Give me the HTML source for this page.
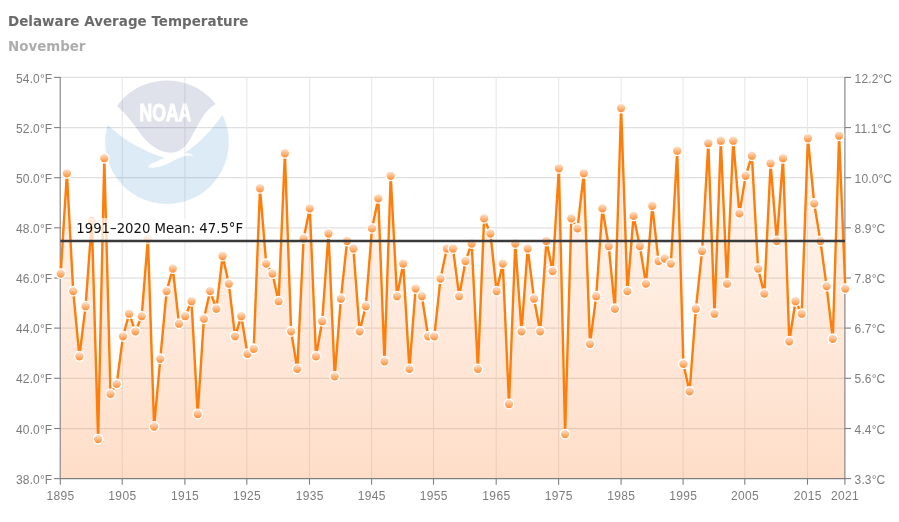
<!DOCTYPE html>
<html lang="en"><head><meta charset="utf-8"><title>Delaware Average Temperature</title>
<style>
html,body{margin:0;padding:0;background:#fff;}
body{width:899px;height:522px;overflow:hidden;position:relative;font-family:"Liberation Sans",sans-serif;}
#title{position:absolute;left:8px;top:12.2px;font-family:"DejaVu Sans","Liberation Sans",sans-serif;font-size:13.5px;font-weight:bold;color:#6a6a6a;white-space:nowrap;line-height:18px;}
#subtitle{position:absolute;left:8px;top:38px;font-family:"DejaVu Sans","Liberation Sans",sans-serif;font-size:13.4px;font-weight:bold;color:#adadad;white-space:nowrap;line-height:18px;}
svg{position:absolute;left:0;top:0;}
.ax{font-family:"Liberation Sans",sans-serif;font-size:12px;fill:#7c7c7c;}
.xl{letter-spacing:0.35px;}
.yl{letter-spacing:0.12px;}
.ml{font-family:"DejaVu Sans","Liberation Sans",sans-serif;font-size:13.25px;fill:#111;}
</style></head><body>
<div id="title">Delaware Average Temperature</div>
<div id="subtitle">November</div>
<svg width="899" height="522" viewBox="0 0 899 522">
<defs>
<linearGradient id="af" gradientUnits="userSpaceOnUse" x1="0" y1="77" x2="0" y2="479">
<stop offset="0" stop-color="#fc7319" stop-opacity="0.015"/><stop offset="1" stop-color="#fc7319" stop-opacity="0.24"/></linearGradient>
<linearGradient id="mk" x1="0" y1="0" x2="0" y2="1">
<stop offset="0" stop-color="#ffe6d2"/><stop offset="0.45" stop-color="#ffbe8c"/><stop offset="1" stop-color="#ff8520"/></linearGradient>
<clipPath id="lc"><circle cx="167" cy="142.2" r="61.8"/></clipPath>
</defs>
<g stroke="#e0e0e0" stroke-width="1.25"><line x1="60" x2="845" y1="428.5" y2="428.5"/><line x1="60" x2="845" y1="378.3" y2="378.3"/><line x1="60" x2="845" y1="328.1" y2="328.1"/><line x1="60" x2="845" y1="278.0" y2="278.0"/><line x1="60" x2="845" y1="227.8" y2="227.8"/><line x1="60" x2="845" y1="177.7" y2="177.7"/><line x1="60" x2="845" y1="127.6" y2="127.6"/><line x1="60" x2="845" y1="77.4" y2="77.4"/><line x1="122.2" x2="122.2" y1="77.4" y2="478.6" stroke="#e8e8e8" stroke-width="1.1"/><line x1="184.9" x2="184.9" y1="77.4" y2="478.6" stroke="#e8e8e8" stroke-width="1.1"/><line x1="246.8" x2="246.8" y1="77.4" y2="478.6" stroke="#e8e8e8" stroke-width="1.1"/><line x1="309.5" x2="309.5" y1="77.4" y2="478.6" stroke="#e8e8e8" stroke-width="1.1"/><line x1="371.6" x2="371.6" y1="77.4" y2="478.6" stroke="#e8e8e8" stroke-width="1.1"/><line x1="433.5" x2="433.5" y1="77.4" y2="478.6" stroke="#e8e8e8" stroke-width="1.1"/><line x1="496.2" x2="496.2" y1="77.4" y2="478.6" stroke="#e8e8e8" stroke-width="1.1"/><line x1="558.6" x2="558.6" y1="77.4" y2="478.6" stroke="#e8e8e8" stroke-width="1.1"/><line x1="621.1" x2="621.1" y1="77.4" y2="478.6" stroke="#e8e8e8" stroke-width="1.1"/><line x1="683.1" x2="683.1" y1="77.4" y2="478.6" stroke="#e8e8e8" stroke-width="1.1"/><line x1="744.8" x2="744.8" y1="77.4" y2="478.6" stroke="#e8e8e8" stroke-width="1.1"/><line x1="807.5" x2="807.5" y1="77.4" y2="478.6" stroke="#e8e8e8" stroke-width="1.1"/></g>
<g id="logo" clip-path="url(#lc)" opacity="0.15">
<path d="M108.3,125.2 C116,133 127,141 137.8,146.6 C147,151.5 156,156 165,157.5 L150,164.5 Q146.5,167 150,167.6 C158,168.5 168,164 176,159.5 C181,156.5 187,155 193.8,155.9 C191,153.5 188,152.8 184.7,152.7 C196,146 208,135 222.2,115.3 L240,115 L240,215 L95,215 L95,125 Z" fill="#1c7ac3"/>
<path d="M116.6,105.5 L110,70 L225,70 L215.7,104 C205,110 200,121 193,134 C188,144 182,152.5 171.1,152.7 C158,152.5 147,143 140,133 C133,123 125,113 116.6,105.5 Z" fill="#2a377a"/>
<text x="139.6" y="121" font-family="Liberation Sans, sans-serif" font-weight="bold" font-size="23.7" fill="#fff" stroke="#fff" stroke-width="1.1" textLength="51.6" lengthAdjust="spacingAndGlyphs">NOAA</text>
</g>
<polygon points="60.4,478.6 60.7,273.6 66.9,173.3 73.2,291.1 79.4,356.3 85.6,306.2 91.8,220.9 98.1,439.1 104.3,158.2 110.5,393.9 116.7,383.9 123.0,336.3 129.2,313.7 135.4,331.3 141.7,316.2 147.9,238.5 154.1,426.5 160.3,358.8 166.6,291.1 172.8,268.6 179.0,323.7 185.2,316.2 191.5,301.2 197.7,414.0 203.9,318.7 210.1,291.1 216.4,308.7 222.6,256.0 228.8,283.6 235.1,336.3 241.3,316.2 247.5,353.8 253.7,348.8 260.0,188.3 266.2,263.6 272.4,273.6 278.6,301.2 284.9,153.2 291.1,331.3 297.3,368.9 303.6,238.5 309.8,208.4 316.0,356.3 322.2,321.2 328.5,233.5 334.7,376.4 340.9,298.7 347.1,241.0 353.4,248.5 359.6,331.3 365.8,306.2 372.0,228.4 378.3,198.4 384.5,361.3 390.7,175.8 397.0,296.2 403.2,263.6 409.4,368.9 415.6,288.6 421.9,296.2 428.1,336.3 434.3,336.3 440.5,278.6 446.8,248.5 453.0,248.5 459.2,296.2 465.5,261.0 471.7,243.5 477.9,368.9 484.1,218.4 490.4,233.5 496.6,291.1 502.8,263.6 509.0,404.0 515.3,243.5 521.5,331.3 527.7,248.5 534.0,298.7 540.2,331.3 546.4,241.0 552.6,271.1 558.9,168.3 565.1,434.1 571.3,218.4 577.5,228.4 583.8,173.3 590.0,343.8 596.2,296.2 602.4,208.4 608.7,246.0 614.9,308.7 621.1,108.1 627.4,291.1 633.6,215.9 639.8,246.0 646.0,283.6 652.3,205.9 658.5,261.0 664.7,258.5 670.9,263.6 677.2,150.7 683.4,363.9 689.6,391.4 695.9,308.7 702.1,251.0 708.3,143.2 714.5,313.7 720.8,140.7 727.0,283.6 733.2,140.7 739.4,213.4 745.7,175.8 751.9,155.7 758.1,268.6 764.3,293.6 770.6,163.3 776.8,241.0 783.0,158.2 789.3,341.3 795.5,301.2 801.7,313.7 807.9,138.2 814.2,203.4 820.4,241.0 826.6,286.1 832.8,338.8 839.1,135.7 845.3,288.6 845.0,478.6" fill="url(#af)"/>
<g stroke="#7f7f7f" stroke-width="1.1"><line x1="60.2" x2="60.2" y1="76.9" y2="479.1"/><line x1="844.9" x2="844.9" y1="76.9" y2="479.1"/><line x1="59.7" x2="845.4" y1="478.6" y2="478.6"/><line x1="54.1" x2="60.2" y1="478.6" y2="478.6"/><line x1="845" x2="851" y1="478.6" y2="478.6"/><line x1="54.1" x2="60.2" y1="428.5" y2="428.5"/><line x1="845" x2="851" y1="428.5" y2="428.5"/><line x1="54.1" x2="60.2" y1="378.3" y2="378.3"/><line x1="845" x2="851" y1="378.3" y2="378.3"/><line x1="54.1" x2="60.2" y1="328.1" y2="328.1"/><line x1="845" x2="851" y1="328.1" y2="328.1"/><line x1="54.1" x2="60.2" y1="278.0" y2="278.0"/><line x1="845" x2="851" y1="278.0" y2="278.0"/><line x1="54.1" x2="60.2" y1="227.8" y2="227.8"/><line x1="845" x2="851" y1="227.8" y2="227.8"/><line x1="54.1" x2="60.2" y1="177.7" y2="177.7"/><line x1="845" x2="851" y1="177.7" y2="177.7"/><line x1="54.1" x2="60.2" y1="127.6" y2="127.6"/><line x1="845" x2="851" y1="127.6" y2="127.6"/><line x1="54.1" x2="60.2" y1="77.4" y2="77.4"/><line x1="845" x2="851" y1="77.4" y2="77.4"/><line x1="60.3" x2="60.3" y1="478.6" y2="484.7"/><line x1="122.2" x2="122.2" y1="478.6" y2="484.7"/><line x1="184.9" x2="184.9" y1="478.6" y2="484.7"/><line x1="246.8" x2="246.8" y1="478.6" y2="484.7"/><line x1="309.5" x2="309.5" y1="478.6" y2="484.7"/><line x1="371.6" x2="371.6" y1="478.6" y2="484.7"/><line x1="433.5" x2="433.5" y1="478.6" y2="484.7"/><line x1="496.2" x2="496.2" y1="478.6" y2="484.7"/><line x1="558.6" x2="558.6" y1="478.6" y2="484.7"/><line x1="621.1" x2="621.1" y1="478.6" y2="484.7"/><line x1="683.1" x2="683.1" y1="478.6" y2="484.7"/><line x1="744.8" x2="744.8" y1="478.6" y2="484.7"/><line x1="807.5" x2="807.5" y1="478.6" y2="484.7"/><line x1="844.9" x2="844.9" y1="478.6" y2="484.7"/></g>
<polyline points="60.7,273.6 66.9,173.3 73.2,291.1 79.4,356.3 85.6,306.2 91.8,220.9 98.1,439.1 104.3,158.2 110.5,393.9 116.7,383.9 123.0,336.3 129.2,313.7 135.4,331.3 141.7,316.2 147.9,238.5 154.1,426.5 160.3,358.8 166.6,291.1 172.8,268.6 179.0,323.7 185.2,316.2 191.5,301.2 197.7,414.0 203.9,318.7 210.1,291.1 216.4,308.7 222.6,256.0 228.8,283.6 235.1,336.3 241.3,316.2 247.5,353.8 253.7,348.8 260.0,188.3 266.2,263.6 272.4,273.6 278.6,301.2 284.9,153.2 291.1,331.3 297.3,368.9 303.6,238.5 309.8,208.4 316.0,356.3 322.2,321.2 328.5,233.5 334.7,376.4 340.9,298.7 347.1,241.0 353.4,248.5 359.6,331.3 365.8,306.2 372.0,228.4 378.3,198.4 384.5,361.3 390.7,175.8 397.0,296.2 403.2,263.6 409.4,368.9 415.6,288.6 421.9,296.2 428.1,336.3 434.3,336.3 440.5,278.6 446.8,248.5 453.0,248.5 459.2,296.2 465.5,261.0 471.7,243.5 477.9,368.9 484.1,218.4 490.4,233.5 496.6,291.1 502.8,263.6 509.0,404.0 515.3,243.5 521.5,331.3 527.7,248.5 534.0,298.7 540.2,331.3 546.4,241.0 552.6,271.1 558.9,168.3 565.1,434.1 571.3,218.4 577.5,228.4 583.8,173.3 590.0,343.8 596.2,296.2 602.4,208.4 608.7,246.0 614.9,308.7 621.1,108.1 627.4,291.1 633.6,215.9 639.8,246.0 646.0,283.6 652.3,205.9 658.5,261.0 664.7,258.5 670.9,263.6 677.2,150.7 683.4,363.9 689.6,391.4 695.9,308.7 702.1,251.0 708.3,143.2 714.5,313.7 720.8,140.7 727.0,283.6 733.2,140.7 739.4,213.4 745.7,175.8 751.9,155.7 758.1,268.6 764.3,293.6 770.6,163.3 776.8,241.0 783.0,158.2 789.3,341.3 795.5,301.2 801.7,313.7 807.9,138.2 814.2,203.4 820.4,241.0 826.6,286.1 832.8,338.8 839.1,135.7 845.3,288.6" fill="none" stroke="#ff7d0a" stroke-width="2.4" stroke-linejoin="round" stroke-linecap="round"/>
<g fill="url(#mk)" stroke="#fff" stroke-width="1.3"><circle cx="60.7" cy="273.6" r="4.8"/><circle cx="66.9" cy="173.3" r="4.8"/><circle cx="73.2" cy="291.1" r="4.8"/><circle cx="79.4" cy="356.3" r="4.8"/><circle cx="85.6" cy="306.2" r="4.8"/><circle cx="91.8" cy="220.9" r="4.8"/><circle cx="98.1" cy="439.1" r="4.8"/><circle cx="104.3" cy="158.2" r="4.8"/><circle cx="110.5" cy="393.9" r="4.8"/><circle cx="116.7" cy="383.9" r="4.8"/><circle cx="123.0" cy="336.3" r="4.8"/><circle cx="129.2" cy="313.7" r="4.8"/><circle cx="135.4" cy="331.3" r="4.8"/><circle cx="141.7" cy="316.2" r="4.8"/><circle cx="147.9" cy="238.5" r="4.8"/><circle cx="154.1" cy="426.5" r="4.8"/><circle cx="160.3" cy="358.8" r="4.8"/><circle cx="166.6" cy="291.1" r="4.8"/><circle cx="172.8" cy="268.6" r="4.8"/><circle cx="179.0" cy="323.7" r="4.8"/><circle cx="185.2" cy="316.2" r="4.8"/><circle cx="191.5" cy="301.2" r="4.8"/><circle cx="197.7" cy="414.0" r="4.8"/><circle cx="203.9" cy="318.7" r="4.8"/><circle cx="210.1" cy="291.1" r="4.8"/><circle cx="216.4" cy="308.7" r="4.8"/><circle cx="222.6" cy="256.0" r="4.8"/><circle cx="228.8" cy="283.6" r="4.8"/><circle cx="235.1" cy="336.3" r="4.8"/><circle cx="241.3" cy="316.2" r="4.8"/><circle cx="247.5" cy="353.8" r="4.8"/><circle cx="253.7" cy="348.8" r="4.8"/><circle cx="260.0" cy="188.3" r="4.8"/><circle cx="266.2" cy="263.6" r="4.8"/><circle cx="272.4" cy="273.6" r="4.8"/><circle cx="278.6" cy="301.2" r="4.8"/><circle cx="284.9" cy="153.2" r="4.8"/><circle cx="291.1" cy="331.3" r="4.8"/><circle cx="297.3" cy="368.9" r="4.8"/><circle cx="303.6" cy="238.5" r="4.8"/><circle cx="309.8" cy="208.4" r="4.8"/><circle cx="316.0" cy="356.3" r="4.8"/><circle cx="322.2" cy="321.2" r="4.8"/><circle cx="328.5" cy="233.5" r="4.8"/><circle cx="334.7" cy="376.4" r="4.8"/><circle cx="340.9" cy="298.7" r="4.8"/><circle cx="347.1" cy="241.0" r="4.8"/><circle cx="353.4" cy="248.5" r="4.8"/><circle cx="359.6" cy="331.3" r="4.8"/><circle cx="365.8" cy="306.2" r="4.8"/><circle cx="372.0" cy="228.4" r="4.8"/><circle cx="378.3" cy="198.4" r="4.8"/><circle cx="384.5" cy="361.3" r="4.8"/><circle cx="390.7" cy="175.8" r="4.8"/><circle cx="397.0" cy="296.2" r="4.8"/><circle cx="403.2" cy="263.6" r="4.8"/><circle cx="409.4" cy="368.9" r="4.8"/><circle cx="415.6" cy="288.6" r="4.8"/><circle cx="421.9" cy="296.2" r="4.8"/><circle cx="428.1" cy="336.3" r="4.8"/><circle cx="434.3" cy="336.3" r="4.8"/><circle cx="440.5" cy="278.6" r="4.8"/><circle cx="446.8" cy="248.5" r="4.8"/><circle cx="453.0" cy="248.5" r="4.8"/><circle cx="459.2" cy="296.2" r="4.8"/><circle cx="465.5" cy="261.0" r="4.8"/><circle cx="471.7" cy="243.5" r="4.8"/><circle cx="477.9" cy="368.9" r="4.8"/><circle cx="484.1" cy="218.4" r="4.8"/><circle cx="490.4" cy="233.5" r="4.8"/><circle cx="496.6" cy="291.1" r="4.8"/><circle cx="502.8" cy="263.6" r="4.8"/><circle cx="509.0" cy="404.0" r="4.8"/><circle cx="515.3" cy="243.5" r="4.8"/><circle cx="521.5" cy="331.3" r="4.8"/><circle cx="527.7" cy="248.5" r="4.8"/><circle cx="534.0" cy="298.7" r="4.8"/><circle cx="540.2" cy="331.3" r="4.8"/><circle cx="546.4" cy="241.0" r="4.8"/><circle cx="552.6" cy="271.1" r="4.8"/><circle cx="558.9" cy="168.3" r="4.8"/><circle cx="565.1" cy="434.1" r="4.8"/><circle cx="571.3" cy="218.4" r="4.8"/><circle cx="577.5" cy="228.4" r="4.8"/><circle cx="583.8" cy="173.3" r="4.8"/><circle cx="590.0" cy="343.8" r="4.8"/><circle cx="596.2" cy="296.2" r="4.8"/><circle cx="602.4" cy="208.4" r="4.8"/><circle cx="608.7" cy="246.0" r="4.8"/><circle cx="614.9" cy="308.7" r="4.8"/><circle cx="621.1" cy="108.1" r="4.8"/><circle cx="627.4" cy="291.1" r="4.8"/><circle cx="633.6" cy="215.9" r="4.8"/><circle cx="639.8" cy="246.0" r="4.8"/><circle cx="646.0" cy="283.6" r="4.8"/><circle cx="652.3" cy="205.9" r="4.8"/><circle cx="658.5" cy="261.0" r="4.8"/><circle cx="664.7" cy="258.5" r="4.8"/><circle cx="670.9" cy="263.6" r="4.8"/><circle cx="677.2" cy="150.7" r="4.8"/><circle cx="683.4" cy="363.9" r="4.8"/><circle cx="689.6" cy="391.4" r="4.8"/><circle cx="695.9" cy="308.7" r="4.8"/><circle cx="702.1" cy="251.0" r="4.8"/><circle cx="708.3" cy="143.2" r="4.8"/><circle cx="714.5" cy="313.7" r="4.8"/><circle cx="720.8" cy="140.7" r="4.8"/><circle cx="727.0" cy="283.6" r="4.8"/><circle cx="733.2" cy="140.7" r="4.8"/><circle cx="739.4" cy="213.4" r="4.8"/><circle cx="745.7" cy="175.8" r="4.8"/><circle cx="751.9" cy="155.7" r="4.8"/><circle cx="758.1" cy="268.6" r="4.8"/><circle cx="764.3" cy="293.6" r="4.8"/><circle cx="770.6" cy="163.3" r="4.8"/><circle cx="776.8" cy="241.0" r="4.8"/><circle cx="783.0" cy="158.2" r="4.8"/><circle cx="789.3" cy="341.3" r="4.8"/><circle cx="795.5" cy="301.2" r="4.8"/><circle cx="801.7" cy="313.7" r="4.8"/><circle cx="807.9" cy="138.2" r="4.8"/><circle cx="814.2" cy="203.4" r="4.8"/><circle cx="820.4" cy="241.0" r="4.8"/><circle cx="826.6" cy="286.1" r="4.8"/><circle cx="832.8" cy="338.8" r="4.8"/><circle cx="839.1" cy="135.7" r="4.8"/><circle cx="845.3" cy="288.6" r="4.8"/></g>
<text class="ax yl" x="52.3" y="483.7" text-anchor="end">38.0°F</text>
<text class="ax yl" x="854.6" y="483.7">3.3°C</text>
<text class="ax yl" x="52.3" y="433.6" text-anchor="end">40.0°F</text>
<text class="ax yl" x="854.6" y="433.6">4.4°C</text>
<text class="ax yl" x="52.3" y="383.4" text-anchor="end">42.0°F</text>
<text class="ax yl" x="854.6" y="383.4">5.6°C</text>
<text class="ax yl" x="52.3" y="333.2" text-anchor="end">44.0°F</text>
<text class="ax yl" x="854.6" y="333.2">6.7°C</text>
<text class="ax yl" x="52.3" y="283.1" text-anchor="end">46.0°F</text>
<text class="ax yl" x="854.6" y="283.1">7.8°C</text>
<text class="ax yl" x="52.3" y="232.9" text-anchor="end">48.0°F</text>
<text class="ax yl" x="854.6" y="232.9">8.9°C</text>
<text class="ax yl" x="52.3" y="182.8" text-anchor="end">50.0°F</text>
<text class="ax yl" x="854.6" y="182.8">10.0°C</text>
<text class="ax yl" x="52.3" y="132.7" text-anchor="end">52.0°F</text>
<text class="ax yl" x="854.6" y="132.7">11.1°C</text>
<text class="ax yl" x="52.3" y="82.5" text-anchor="end">54.0°F</text>
<text class="ax yl" x="854.6" y="82.5">12.2°C</text>
<text class="ax xl" x="60.5" y="500" text-anchor="middle">1895</text>
<text class="ax xl" x="122.4" y="500" text-anchor="middle">1905</text>
<text class="ax xl" x="185.1" y="500" text-anchor="middle">1915</text>
<text class="ax xl" x="247.0" y="500" text-anchor="middle">1925</text>
<text class="ax xl" x="309.7" y="500" text-anchor="middle">1935</text>
<text class="ax xl" x="371.8" y="500" text-anchor="middle">1945</text>
<text class="ax xl" x="433.7" y="500" text-anchor="middle">1955</text>
<text class="ax xl" x="496.4" y="500" text-anchor="middle">1965</text>
<text class="ax xl" x="558.8" y="500" text-anchor="middle">1975</text>
<text class="ax xl" x="621.3" y="500" text-anchor="middle">1985</text>
<text class="ax xl" x="683.3" y="500" text-anchor="middle">1995</text>
<text class="ax xl" x="745.0" y="500" text-anchor="middle">2005</text>
<text class="ax xl" x="807.7" y="500" text-anchor="middle">2015</text>
<text class="ax xl" x="845.1" y="500" text-anchor="middle">2021</text>
<rect x="72" y="218.2" width="173.5" height="22.5" fill="#fff" fill-opacity="0.72"/>
<line x1="60.4" x2="845" y1="241.0" y2="241.0" stroke="#3a3a3a" stroke-width="2.6"/>
<text class="ml" x="76.3" y="232.7">1991–2020 Mean: 47.5°F</text>
</svg></body></html>
